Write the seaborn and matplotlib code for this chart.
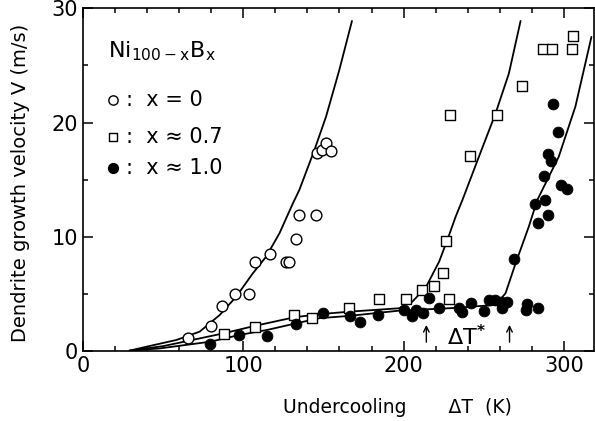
import numpy as np
import pandas as pd
import seaborn as sns
import matplotlib.pyplot as plt
from matplotlib.ticker import MultipleLocator

# x = 0 (open circles)
dT_x0 = [65.7, 79.7, 86.9, 94.6, 103.5, 107.0, 116.4, 126.7, 128.8, 133.0, 134.6,
         145.4, 145.8, 149.2, 151.3, 154.8]
V_x0 = [1.1, 2.2, 3.9, 5.0, 5.0, 7.8, 8.5, 7.8, 7.8, 9.8, 11.9,
        11.9, 17.3, 17.6, 18.2, 17.5]

# x ~ 0.7 (open squares)
dT_x07 = [87.7, 107.0, 131.9, 142.9, 165.7, 184.8, 201.8, 211.2, 219.0, 224.6,
          226.7, 228.4, 229.0, 241.2, 258.0, 273.6, 286.9, 292.3, 305.0, 306.0]
V_x07 = [1.5, 2.1, 3.1, 2.9, 3.7, 4.5, 4.5, 5.3, 5.7, 6.8,
         9.6, 4.5, 20.7, 17.1, 20.7, 23.2, 26.4, 26.4, 26.4, 27.6]

# x ~ 1.0 (filled circles)
dT_x10 = [79.5, 97.1, 114.9, 133.0, 150.0, 166.6, 172.8, 183.8, 200.4, 205.1,
          207.6, 212.4, 215.9, 222.2, 234.6, 236.7, 242.3, 250.2, 253.3, 257.0,
          260.5, 261.5, 264.6, 269.2, 276.1, 277.1, 284.0, 282.3, 284.0, 288.5,
          290.2, 287.5, 290.2, 292.0, 293.1, 296.4, 298.5, 302.0]
V_x10 = [0.6, 1.4, 1.3, 2.3, 3.3, 3.0, 2.5, 3.1, 3.6, 3.0,
         3.6, 3.3, 4.6, 3.7, 3.7, 3.4, 4.2, 3.5, 4.4, 4.4,
         4.3, 3.7, 4.3, 8.0, 3.6, 4.1, 3.7, 12.9, 11.2, 13.2,
         11.9, 15.3, 17.2, 16.6, 21.6, 19.2, 14.5, 14.2]

# model curves
curve_x0_dT = [29, 39.6, 58.3, 72.8, 85.3, 95.6, 106.0, 114.3, 122.6, 130.9,
               135.0, 144.4, 151.6, 159.9, 167.8]
curve_x0_V = [0, 0.35, 0.94, 1.67, 3.13, 4.74, 6.79, 8.25, 10.3, 12.9,
              14.1, 17.6, 20.5, 24.6, 28.9]

curve_x07_dT = [29, 50, 87.7, 107.0, 131.9, 147.5, 166.1, 197.3, 205.5, 213.9,
                222.2, 227.3, 232.5, 236.7, 247.0, 257.4, 265.7, 273.0]
curve_x07_V = [0, 0.4, 1.52, 2.17, 2.93, 3.2, 3.42, 3.72, 4.3, 5.56,
               7.81, 9.71, 11.75, 13.2, 17.0, 20.8, 24.3, 28.9]

curve_x10_dT = [29, 47.9, 79.5, 97.7, 114.9, 133.0, 147.5, 166.1, 197.3, 228.4,
                257.4, 263.6, 269.9, 278.2, 283.4, 296.8, 307.2, 317.2]
curve_x10_V = [0, 0.2, 0.79, 1.38, 1.82, 2.4, 2.85, 3.05, 3.51, 3.72,
               4.01, 5.03, 7.66, 10.9, 13.2, 17.0, 21.4, 27.5]

arrow_dT = [214.2, 266.1]

legend_labels = [':  x = 0', ':  x ≈ 0.7', ':  x ≈ 1.0']

sns.set_style("ticks")
plt.rcParams['font.family'] = ['DejaVu Sans']
plt.rcParams.update({'text.color': 'black', 'axes.labelcolor': 'black',
                     'xtick.color': 'black', 'ytick.color': 'black',
                     'axes.edgecolor': 'black'})

fig = plt.figure(figsize=(5.95, 4.21), dpi=100)
ax = fig.add_axes([0.1395, 0.167, 0.858, 0.813])

for cx, cy in [(curve_x0_dT, curve_x0_V), (curve_x07_dT, curve_x07_V),
               (curve_x10_dT, curve_x10_V)]:
    sns.lineplot(x=cx, y=cy, ax=ax, color='black', lw=1.3, sort=False)

sns.scatterplot(x=dT_x0, y=V_x0, ax=ax, marker='o', s=60, facecolor='white',
                edgecolor='black', linewidth=1.0, zorder=3)
sns.scatterplot(x=dT_x07, y=V_x07, ax=ax, marker='s', s=50, facecolor='white',
                edgecolor='black', linewidth=1.0, zorder=3)
sns.scatterplot(x=dT_x10, y=V_x10, ax=ax, marker='o', s=60, color='black',
                edgecolor='black', zorder=4)

# key in the upper left corner
ax.text(0.049, 0.876, r'$\mathregular{Ni_{100-x}B_x}$', transform=ax.transAxes,
        fontsize=16, ha='left', va='center')
key_y = [0.733, 0.625, 0.534]
key_style = [dict(marker='o', s=45, facecolor='white', edgecolor='black', linewidth=1.0),
             dict(marker='s', s=35, facecolor='white', edgecolor='black', linewidth=1.0),
             dict(marker='o', s=50, color='black')]
for ky, st, lab in zip(key_y, key_style, legend_labels):
    ax.scatter([0.0586], [ky], transform=ax.transAxes, clip_on=False, **st)
    ax.text(0.085, ky, lab, transform=ax.transAxes, fontsize=15,
            ha='left', va='center')

for a in arrow_dT:
    ax.annotate('', xy=(a, 2.5), xytext=(a, 0.5),
                arrowprops=dict(arrowstyle='->', color='black', lw=1.0))
ax.text(239, 1.2, r'ΔT$^{\mathbf{*}}$', fontsize=16, ha='center', va='center')

ax.set_xlim(0, 318.5)
ax.set_ylim(0, 30)
ax.xaxis.set_major_locator(MultipleLocator(100))
ax.xaxis.set_minor_locator(MultipleLocator(20))
ax.yaxis.set_major_locator(MultipleLocator(10))
ax.yaxis.set_minor_locator(MultipleLocator(5))
ax.tick_params(which='both', direction='in', top=True, right=True, width=1.1,
               labelsize=15)
ax.tick_params(which='major', length=7)
ax.tick_params(which='minor', length=3.5)
for s in ax.spines.values():
    s.set_linewidth(1.2)

ax.set_xlabel('Undercooling       ΔT  (K)', fontsize=13.5)
ax.xaxis.set_label_coords(0.615, -0.138)
ax.set_ylabel('Dendrite growth velocity V (m/s)', fontsize=14)
ax.yaxis.set_label_coords(-0.104, 0.49)

fig.savefig('out.png', dpi=100)
